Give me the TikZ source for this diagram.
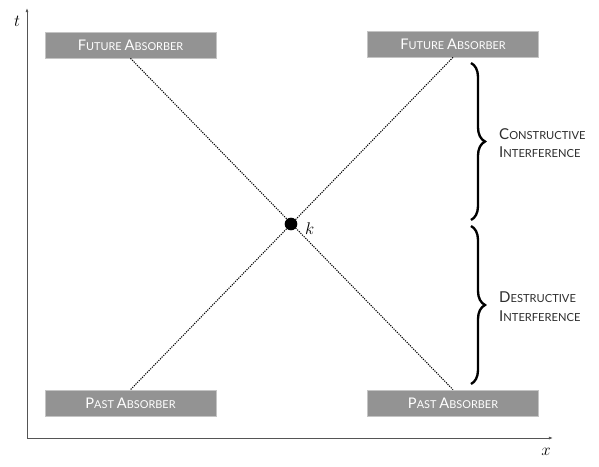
\documentclass[tikz,border=0pt]{standalone}
\usepackage{fontspec}
\usepackage{xcolor}
\usepackage{tikz}
\usetikzlibrary{arrows.meta,decorations.pathreplacing}
\newfontfamily\labelfont{Lato}
\definecolor{boxgray}{HTML}{939393}
\definecolor{boxedge}{HTML}{C4C4C4}
\definecolor{axisgray}{HTML}{555555}
\definecolor{textdark}{HTML}{2E2E2E}
\newcommand{\smcap}[4]{{\fontsize{#3}{#3}\selectfont #1}{\fontsize{#4}{#4}\selectfont #2}}
\newcommand{\boxcap}[2]{\smcap{#1}{#2}{12.5}{9.3}}
\newcommand{\sidecap}[2]{\smcap{#1}{#2}{12.8}{9.5}}
\tikzset{
  absorber/.style={fill=boxgray, draw=boxedge, line width=0.6pt, text=white,
    minimum width=5.13cm, minimum height=0.78cm, inner sep=0pt, font=\labelfont},
  axis/.style={draw=axisgray, line width=0.6pt, -{Latex[length=3.5pt,width=2.5pt]}},
  wave/.style={draw=black, line width=0.9pt, dash pattern=on 1pt off 1pt},
  curly/.style={draw=black, line width=2pt, decorate,
    decoration={brace, amplitude=0.42cm, aspect=0.5}},
  sidelbl/.style={font=\labelfont, text=textdark, anchor=west, align=left, inner sep=0pt},
  axislbl/.style={font=\Large, inner sep=0pt},
}

\begin{document}
\begin{tikzpicture}[x=0.03cm, y=-0.03cm]

  \useasboundingbox (0,0) rectangle (599,466);

  \coordinate (origin) at (27,438);
  \coordinate (ttip) at (27,8);
  \coordinate (xtip) at (553,438);
  \draw[axis] (origin) -- (ttip);
  \draw[axis] (origin) -- (xtip);
  \node[axislbl] (tlbl) at (17,21) {$t$};
  \node[axislbl] (xlbl) at (546,452) {$x$};

  \node[absorber] (futL) at (130.5,45) {\boxcap{F}{UTURE} \boxcap{A}{BSORBER}};
  \node[absorber] (futR) at (453,44) {\boxcap{F}{UTURE} \boxcap{A}{BSORBER}};
  \node[absorber] (pastL) at (130.5,403) {\boxcap{P}{AST} \boxcap{A}{BSORBER}};
  \node[absorber] (pastR) at (453,403) {\boxcap{P}{AST} \boxcap{A}{BSORBER}};

  \draw[wave] (futL.south) -- (pastR.north);
  \draw[wave] (futR.south) -- (pastL.north);

  \node[circle, fill=black, inner sep=0pt, minimum size=0.38cm] (event) at (291,224) {};
  \node[axislbl, anchor=west] (klbl) at (305,229) {$k$};

  \coordinate (bra1) at (471,63);
  \coordinate (bra2) at (471,220);
  \coordinate (brb1) at (471,226);
  \coordinate (brb2) at (471,384);
  \draw[curly] (bra1) -- (bra2);
  \draw[curly] (brb1) -- (brb2);

  \node[sidelbl] (constr) at (499,143) {\sidecap{C}{ONSTRUCTIVE}\\[4pt]\sidecap{I}{NTERFERENCE}};
  \node[sidelbl] (destr) at (499,307) {\sidecap{D}{ESTRUCTIVE}\\[4pt]\sidecap{I}{NTERFERENCE}};

\end{tikzpicture}
\end{document}
